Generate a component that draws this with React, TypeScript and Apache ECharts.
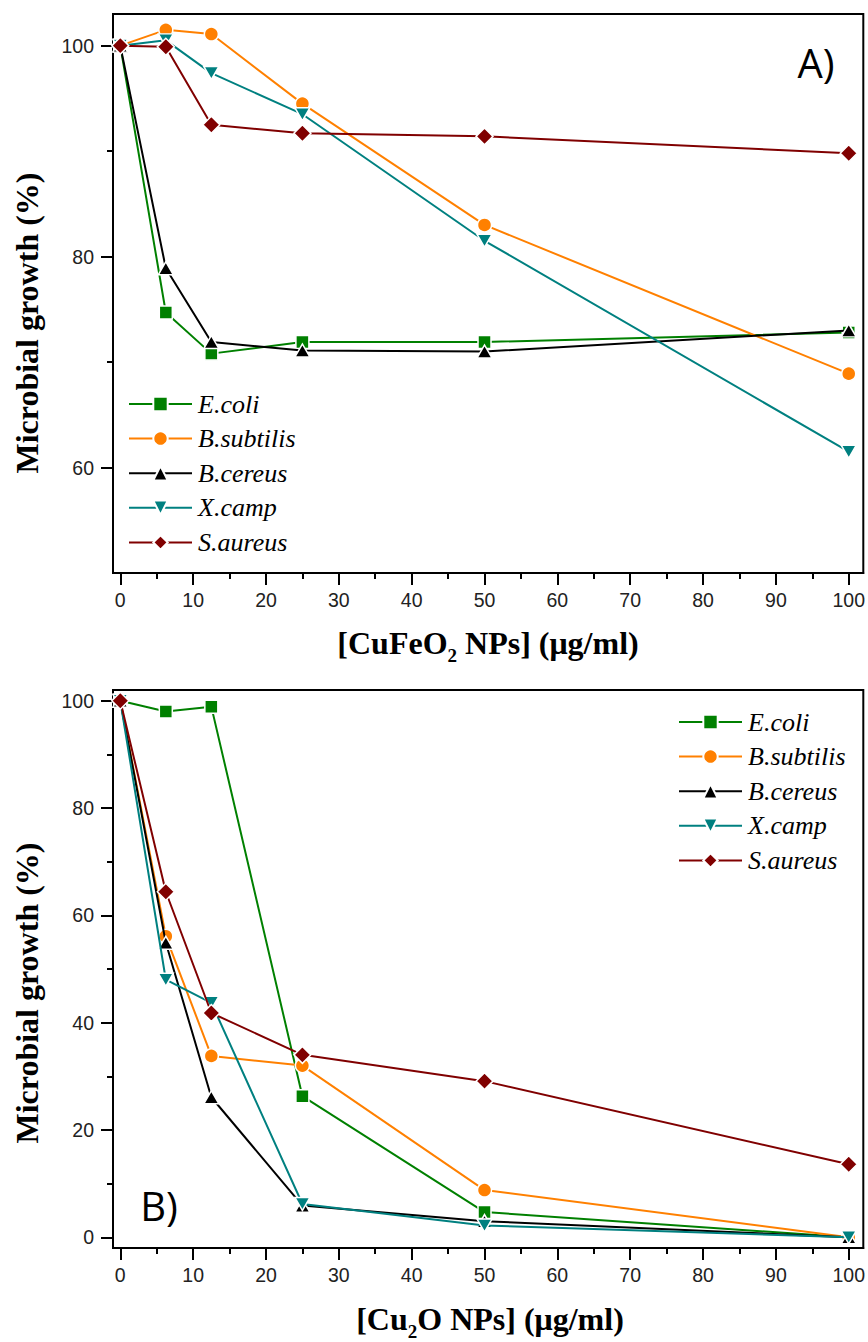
import React, { useEffect, useRef } from "react";
import * as echarts from "echarts";

// ---- Data ----
const CONC = [0, 6.25, 12.5, 25, 50, 100];
const SPECIES = ["E.coli", "B.subtilis", "B.cereus", "X.camp", "S.aureus"];

// Panel A: CuFeO2 NPs
const A_ECOLI = [100, 74.7, 70.8, 71.9, 71.9, 72.8];
const A_BSUBTILIS = [100, 101.5, 101.1, 94.5, 83.0, 68.9];
const A_BCEREUS = [100, 78.9, 71.9, 71.1, 71.0, 73.0];
const A_XCAMP = [100, 100.5, 97.4, 93.5, 81.5, 61.5];
const A_SAUREUS = [100, 99.9, 92.5, 91.7, 91.4, 89.8];

// Panel B: Cu2O NPs
const B_ECOLI = [100, 98.0, 98.9, 26.3, 4.7, 0];
const B_BSUBTILIS = [100, 56.1, 33.8, 32.0, 8.8, 0];
const B_BCEREUS = [100, 54.9, 26.1, 5.9, 3.0, 0];
const B_XCAMP = [100, 48.0, 43.7, 6.2, 2.2, 0];
const B_SAUREUS = [100, 64.4, 41.8, 34.0, 29.1, 13.6];

// Tick values
const X_MAJOR = [0, 10, 20, 30, 40, 50, 60, 70, 80, 90, 100];
const X_MINOR = [5, 15, 25, 35, 45, 55, 65, 75, 85, 95];
const YA_MAJOR = [60, 80, 100];
const YA_MINOR = [70, 90];
const YB_MAJOR = [0, 20, 40, 60, 80, 100];
const YB_MINOR = [10, 30, 50, 70, 90];

const COLORS = ["#008000", "#ff8000", "#000000", "#008080", "#800000"];
const SYMBOLS = ["rect", "circle", "triangle", "triangle", "diamond"];
const SIZES: any[] = [13, 14, [15, 13], [15, 13], 17];
const ROTATES = [0, 0, 0, 180, 0];

const SANS = "'Liberation Sans', Arial, sans-serif";
const SERIF = "'Liberation Serif', 'Times New Roman', serif";

function makeSeries(values: number[][], xi: number, yi: number) {
  return values.map((vals, i) => ({
    name: SPECIES[i],
    type: "line",
    xAxisIndex: xi,
    yAxisIndex: yi,
    data: CONC.map((c, k) => [c, vals[k]]),
    symbol: SYMBOLS[i],
    symbolSize: SIZES[i],
    symbolRotate: ROTATES[i],
    lineStyle: { color: COLORS[i], width: 2 },
    itemStyle: { color: COLORS[i], borderColor: "#ffffff", borderWidth: 1.5 },
    z: 2 + i,
  }));
}

function axisPair(kind: "x" | "y", grid: number, min: number, max: number, major: number[], minor: number[]) {
  const pos = kind === "x" ? "bottom" : "left";
  const main = {
    type: "value",
    gridIndex: grid,
    position: pos,
    min,
    max,
    splitLine: { show: false },
    axisLine: { show: true, onZero: false, lineStyle: { color: "#000", width: 2 } },
    axisTick: { show: true, inside: false, length: 12, customValues: major, lineStyle: { color: "#000", width: 2 } },
    axisLabel: {
      show: true,
      customValues: major,
      fontFamily: SANS,
      fontSize: 19.5,
      color: "#222",
      margin: kind === "x" ? 17 : 19,
    },
  };
  const minorAxis = {
    type: "value",
    gridIndex: grid,
    position: pos,
    offset: 0,
    min,
    max,
    splitLine: { show: false },
    axisLine: { show: false, onZero: false },
    axisTick: { show: true, inside: false, length: 6, customValues: minor, lineStyle: { color: "#000", width: 2 } },
    axisLabel: { show: false },
  };
  return [main, minorAxis];
}

export default function App() {
  const ref = useRef<HTMLDivElement>(null);
  useEffect(() => {
    if (!ref.current) return;
    const chart = echarts.init(ref.current, undefined, { renderer: "svg" });

    const titleRich = {
      n: { fontFamily: SERIF, fontWeight: "bold", fontSize: 32, lineHeight: 32, verticalAlign: "top", fill: "#000", color: "#000" },
      s: { fontFamily: SERIF, fontWeight: "bold", fontSize: 19, lineHeight: 19, padding: [19, 0, 0, 0], verticalAlign: "top", fill: "#000", color: "#000" },
    };

    const legendCommon = {
      orient: "vertical",
      padding: 0,
      itemWidth: 63,
      itemHeight: 18,
      itemGap: 8.6,
      textStyle: { fontFamily: SERIF, fontStyle: "italic", fontSize: 26, lineHeight: 26, color: "#000", padding: [0, 0, 0, 1] },
      data: SPECIES,
      selectedMode: false,
    };

    const option: any = {
      animation: false,
      backgroundColor: "#ffffff",
      grid: [
        { left: 113, top: 14, width: 753, height: 559, show: true, borderColor: "#000", borderWidth: 2, containLabel: false },
        { left: 113, top: 690, width: 753, height: 558, show: true, borderColor: "#000", borderWidth: 2, containLabel: false },
      ],
      xAxis: [
        ...axisPair("x", 0, -1, 102, X_MAJOR, X_MINOR),
        ...axisPair("x", 1, -1, 102, X_MAJOR, X_MINOR),
      ],
      yAxis: [
        ...axisPair("y", 0, 50, 103, YA_MAJOR, YA_MINOR),
        ...axisPair("y", 1, -2, 102, YB_MAJOR, YB_MINOR),
      ],
      legend: [
        { ...legendCommon, left: 128, top: 391 },
        { ...legendCommon, left: 678, top: 709 },
      ],
      series: [
        ...makeSeries([A_ECOLI, A_BSUBTILIS, A_BCEREUS, A_XCAMP, A_SAUREUS], 0, 0),
        ...makeSeries([B_ECOLI, B_BSUBTILIS, B_BCEREUS, B_XCAMP, B_SAUREUS], 2, 2),
      ],
      graphic: [
        {
          type: "text",
          x: 27,
          y: 323,
          rotation: Math.PI / 2,
          style: { text: "Microbial growth (%)", fontFamily: SERIF, fontWeight: "bold", fontSize: 32, fill: "#000", align: "center", verticalAlign: "middle" },
        },
        {
          type: "text",
          x: 27,
          y: 993,
          rotation: Math.PI / 2,
          style: { text: "Microbial growth (%)", fontFamily: SERIF, fontWeight: "bold", fontSize: 32, fill: "#000", align: "center", verticalAlign: "middle" },
        },
        {
          type: "text",
          x: 488,
          y: 643,
          style: { text: "{n|[CuFeO}{s|2}{n| NPs] (μg/ml)}", rich: titleRich, fill: "#000", align: "center", verticalAlign: "middle" },
        },
        {
          type: "text",
          x: 490,
          y: 1319,
          style: { text: "{n|[Cu}{s|2}{n|O NPs] (μg/ml)}", rich: titleRich, fill: "#000", align: "center", verticalAlign: "middle" },
        },
        {
          type: "text",
          x: 816,
          y: 62,
          style: { text: "A)", fontFamily: "'Open Sans', sans-serif", fontSize: 40, fill: "#000", align: "center", verticalAlign: "middle" },
        },
        {
          type: "text",
          x: 159,
          y: 1205,
          style: { text: "B)", fontFamily: "'Open Sans', sans-serif", fontSize: 40, fill: "#000", align: "center", verticalAlign: "middle" },
        },
      ],
    };
    chart.setOption(option);
    return () => chart.dispose();
  }, []);
  return <div ref={ref} style={{ position: "absolute", left: 0, top: 0, width: 868, height: 1342 }} />;
}
